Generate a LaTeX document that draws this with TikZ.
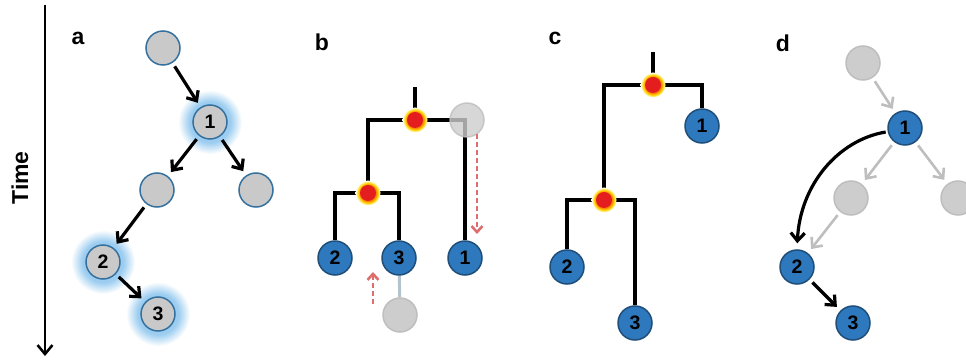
\documentclass[tikz,border=0pt]{standalone}
\usepackage{fontspec}
\setmainfont{Liberation Sans}
\usetikzlibrary{arrows.meta,backgrounds}
\definecolor{glowc}{HTML}{9CCDF0}
\definecolor{greyfill}{HTML}{C9C9C9}
\definecolor{greyedge}{HTML}{35719E}
\definecolor{bluefill}{HTML}{2E78BE}
\definecolor{blueedge}{HTML}{1F4E79}
\definecolor{ghostfill}{HTML}{CDCDCD}
\definecolor{ghostedge}{HTML}{BEBEBE}
\definecolor{ghostline}{HTML}{B4C2CC}
\definecolor{dashred}{HTML}{DD6E6E}
\definecolor{nodered}{HTML}{E41E1E}
\pgfdeclareradialshading{bglow}{\pgfpoint{0bp}{0bp}}{color(0bp)=(glowc); color(16bp)=(glowc); color(25bp)=(white); color(50bp)=(white)}
\pgfdeclareradialshading{rglow}{\pgfpoint{0bp}{0bp}}{color(0bp)=(orange); color(16bp)=(orange); color(20bp)=(yellow!70!orange); color(25bp)=(white); color(50bp)=(white)}
\tikzset{
  ball/.style={circle, minimum size=34pt, inner sep=0pt, line width=1.5pt, font=\bfseries\fontsize{19.5}{19.5}\selectfont},
  gball/.style={ball, fill=greyfill, draw=greyedge},
  bball/.style={ball, fill=bluefill, draw=blueedge},
  ghost/.style={ball, fill=ghostfill, draw=ghostedge},
  junc/.style={circle, minimum size=16pt, inner sep=0pt, fill=nodered},
  blk/.style={line width=3.2pt, black, -{Straight Barb[length=8pt,width=14pt,line width=3.2pt]}, shorten <=4pt, shorten >=5pt},
  gry/.style={line width=2.6pt, ghostedge, -{Straight Barb[length=8pt,width=14pt,line width=2.6pt]}, shorten <=4pt, shorten >=5pt},
  tree/.style={line width=3.2pt, black},
  redarr/.style={line width=2.6pt, dashred, dash pattern=on 5pt off 3pt, -{Straight Barb[length=6pt,width=11pt,line width=2.6pt]}},
  lbl/.style={font=\bfseries\fontsize{23}{23}\selectfont, inner sep=0pt}
}
\newcommand{\glowat}[1]{\shade[shading=bglow] (#1) circle (32);}
\newcommand{\redglowat}[1]{\shade[shading=rglow] (#1) circle (12.5);}
\begin{document}
\begin{tikzpicture}[x=1pt,y=-1pt]
\useasboundingbox (0,0) rectangle (966,363);
% Time axis
\coordinate (t0) at (45,5);
\coordinate (t1) at (45,356);
\draw[line width=2.5pt, -{Straight Barb[length=9pt,width=15pt,line width=2.5pt]}] (t0) -- (t1);
\node[lbl, rotate=90] (time) at (20,178) {Time};
% panel a
\node[lbl] (la) at (78,38) {a};
\glowat{210,122}
\glowat{103,262}
\glowat{158,314}
\node[gball] (a0) at (163,48) {};
\node[gball] (a1) at (210,122) {1};
\node[gball] (al) at (157,190) {};
\node[gball] (ar) at (256,190) {};
\node[gball] (a2) at (103,262) {2};
\node[gball] (a3) at (158,314) {3};
\draw[blk] (a0) -- (a1);
\draw[blk] (a1) -- (al);
\draw[blk] (a1) -- (ar);
\draw[blk] (al) -- (a2);
\draw[blk] (a2) -- (a3);
% panel b
\node[lbl] (lb) at (322,42) {b};
\redglowat{415,120}
\redglowat{368,193}
\node[junc] (bj1) at (415,120) {};
\node[junc] (bj2) at (368,193) {};
\node[bball] (b2) at (335,258) {2};
\node[bball] (b3) at (399,258) {3};
\node[bball] (b1) at (465,258) {1};
\node[ghost, opacity=0.8] (bg1) at (467,120) {};
\node[ghost] (bg3) at (400,315) {};
\coordinate (bt) at (415,87);
\begin{scope}[on background layer]
\draw[tree] (bt) -- (bj1);
\draw[tree] (bj1) -| (b1);
\draw[tree] (bj1) -| (bj2);
\draw[tree] (bj2) -| (b2);
\draw[tree] (bj2) -| (b3);
\draw[line width=3pt, ghostline] (b3) -- (bg3);
\end{scope}
\coordinate (r1s) at (477,134);
\coordinate (r1e) at (477,234);
\coordinate (r2s) at (373,304);
\coordinate (r2e) at (373,272);
\draw[redarr] (r1s) -- (r1e);
\draw[redarr] (r2s) -- (r2e);
% panel c
\node[lbl] (lc) at (555,38) {c};
\redglowat{653,85}
\redglowat{604,200}
\node[junc] (cj1) at (653,85) {};
\node[junc] (cj2) at (604,200) {};
\node[bball] (c1) at (702,126) {1};
\node[bball] (c2) at (567,267) {2};
\node[bball] (c3) at (635,323) {3};
\coordinate (ct) at (653,52);
\begin{scope}[on background layer]
\draw[tree] (ct) -- (cj1);
\draw[tree] (cj1) -| (c1);
\draw[tree] (cj1) -| (cj2);
\draw[tree] (cj2) -| (c2);
\draw[tree] (cj2) -| (c3);
\end{scope}
% panel d
\node[lbl] (ld) at (783,43) {d};
\node[ghost] (d0) at (863,63) {};
\node[bball] (d1) at (905,128) {1};
\node[ghost] (dl) at (851,198) {};
\node[ghost] (dr) at (958,198) {};
\node[bball] (d2) at (797,267) {2};
\node[bball] (d3) at (853,323) {3};
\draw[gry] (d0) -- (d1);
\draw[gry] (d1) -- (dl);
\draw[gry] (d1) -- (dr);
\draw[gry] (dl) -- (d2);
\draw[blk] (d2) -- (d3);
\draw[line width=3.2pt, black, -{Straight Barb[length=8pt,width=14pt,line width=3.2pt]}, shorten <=2pt, shorten >=6pt] (d1.192) .. controls (838,140) and (800,185) .. (d2.north);
\end{tikzpicture}
\end{document}
